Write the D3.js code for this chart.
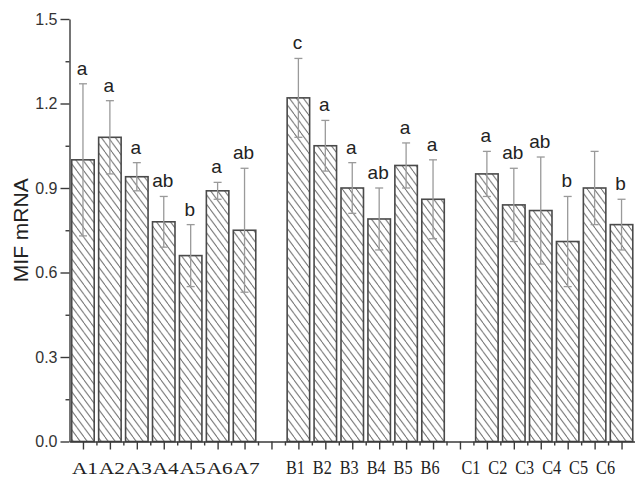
<!DOCTYPE html>
<html>
<head>
<meta charset="utf-8">
<script src="https://cdn.jsdelivr.net/npm/d3@7"></script>
<style>
  html, body { margin: 0; padding: 0; background: #fff; }
  svg { display: block; }
  .axis path, .axis line { stroke: #3a3a3a; stroke-width: 1.4; }
  .axis text { font-family: "Liberation Sans", Arial, sans-serif; font-size: 16px; fill: #333; }
</style>
</head>
<body>
<svg id="chart" width="635" height="479"></svg>
<script>
// ── data ───────────────────────────────────────────────────────────────────
const groupA = ['A1','A2','A3','A4','A5','A6','A7'];
const meanA  = [1.00, 1.08, 0.94, 0.78, 0.66, 0.89, 0.75];
const errA   = [0.27, 0.13, 0.05, 0.09, 0.11, 0.03, 0.22];
const sigA   = ['a','a','a','ab','b','a','ab'];

const groupB = ['B1','B2','B3','B4','B5','B6'];
const meanB  = [1.22, 1.05, 0.90, 0.79, 0.98, 0.86];
const errB   = [0.14, 0.09, 0.09, 0.11, 0.08, 0.14];
const sigB   = ['c','a','a','ab','a','a'];

const groupC = ['C1','C2','C3','C4','C5','C6'];
const meanC  = [0.95, 0.84, 0.82, 0.71, 0.90, 0.77];
const errC   = [0.08, 0.13, 0.19, 0.16, 0.13, 0.09];
const sigC   = ['a','ab','ab','b','','b'];

const yTicks = [0, 0.3, 0.6, 0.9, 1.2, 1.5];
const yLabel = 'MIF mRNA';

// one empty slot between groups
const rows = [];
let slot = 1;
[[groupA, meanA, errA, sigA, 'A'], [groupB, meanB, errB, sigB, 'B'], [groupC, meanC, errC, sigC, 'C']]
  .forEach(([names, means, errs, sigs, g]) => {
    names.forEach((n, i) => rows.push({ name: n, group: g, slot: slot++, v: means[i], e: errs[i], sig: sigs[i] }));
    slot++;
  });
const nSlots = slot - 2;

// ── scales ─────────────────────────────────────────────────────────────────
const svg = d3.select('#chart');
const x = d3.scaleLinear().domain([0.5, nSlots + 0.5]).range([69.5, 635]);
const y = d3.scaleLinear().domain([0, 1.5]).range([441.5, 19]);
const bw = (x(1) - x(0)) * 0.835;

// hatch pattern
const hw = 7, hh = 9.5;
svg.append('defs').append('pattern')
  .attr('id', 'hatch').attr('patternUnits', 'userSpaceOnUse')
  .attr('width', hw).attr('height', hh)
  .append('path')
  .attr('d', `M${-hw},0L0,${hh}M0,0L${hw},${hh}M${hw},0L${2*hw},${hh}`)
  .attr('stroke', '#707070').attr('stroke-width', 1);

// ── bars ───────────────────────────────────────────────────────────────────
svg.append('g').selectAll('rect').data(rows).join('rect')
  .attr('x', d => x(d.slot) - bw / 2).attr('width', bw)
  .attr('y', d => y(d.v)).attr('height', d => y(0) - y(d.v))
  .attr('fill', 'url(#hatch)')
  .attr('stroke', '#4a4a4a').attr('stroke-width', 1.6);

// ── error bars ─────────────────────────────────────────────────────────────
const eb = svg.append('g').attr('stroke', '#9a9a9a').attr('stroke-width', 1.3);
eb.selectAll('.stem').data(rows).join('line').attr('class', 'stem')
  .attr('x1', d => x(d.slot)).attr('x2', d => x(d.slot))
  .attr('y1', d => y(d.v + d.e)).attr('y2', d => y(d.v - d.e));
eb.selectAll('.cap').data(rows.flatMap(d => [d.v + d.e, d.v - d.e].map(v => ({ s: d.slot, v }))))
  .join('line').attr('class', 'cap')
  .attr('x1', d => x(d.s) - 4).attr('x2', d => x(d.s) + 4)
  .attr('y1', d => y(d.v)).attr('y2', d => y(d.v));

// significance letters
svg.append('g').selectAll('text').data(rows.filter(d => d.sig)).join('text')
  .attr('x', d => x(d.slot) - 1).attr('y', d => y(d.v + d.e) - 9)
  .attr('text-anchor', 'middle')
  .attr('font-family', '"Liberation Sans", Arial, sans-serif')
  .attr('font-size', 19).attr('fill', '#222')
  .text(d => d.sig);

// ── axes ───────────────────────────────────────────────────────────────────
svg.append('g').attr('class', 'axis').attr('transform', `translate(${x(0.5)},0)`)
  .call(d3.axisLeft(y).tickValues(yTicks).tickSize(9).tickPadding(3).tickSizeOuter(0).tickFormat(d3.format('.1f')));
svg.append('g').attr('class', 'axis').attr('transform', `translate(${x(0.5)},0)`)
  .call(d3.axisLeft(y).tickValues(yTicks.slice(1).map(t => t - 0.15)).tickSize(4).tickFormat(''))
  .select('.domain').remove();

svg.append('g').attr('class', 'axis').attr('transform', `translate(0,${y(0)})`)
  .call(d3.axisBottom(x).tickValues(d3.range(1, nSlots + 1)).tickSize(8).tickSizeOuter(0).tickFormat(''));
svg.append('g').attr('class', 'axis').attr('transform', `translate(0,${y(0)})`)
  .call(d3.axisBottom(x).tickValues(d3.range(1.5, nSlots, 1)).tickSize(4).tickFormat(''))
  .select('.domain').remove();

// category labels (serif, hand-placed look per group)
const labShift = { A: 2, B: -3, C: -16 };
const labScale = { A: [1.25, 1], B: [1.05, 1.15], C: [1.05, 1.15] };
svg.append('g').selectAll('text').data(rows).join('text')
  .attr('transform', d => `translate(${x(d.slot) + labShift[d.group]},474) scale(${labScale[d.group].join(',')})`)
  .attr('text-anchor', 'middle')
  .attr('font-family', '"Liberation Serif", "Times New Roman", serif')
  .attr('font-size', d => d.group === 'A' ? 17 : 15.5).attr('fill', '#222')
  .text(d => d.name);

// y label
svg.append('text')
  .attr('transform', `translate(28,${(y(0) + y(1.5)) / 2}) rotate(-90)`)
  .attr('text-anchor', 'middle')
  .attr('font-family', '"Liberation Sans", Arial, sans-serif')
  .attr('font-size', 21).attr('fill', '#222')
  .text(yLabel);
</script>
</body>
</html>
